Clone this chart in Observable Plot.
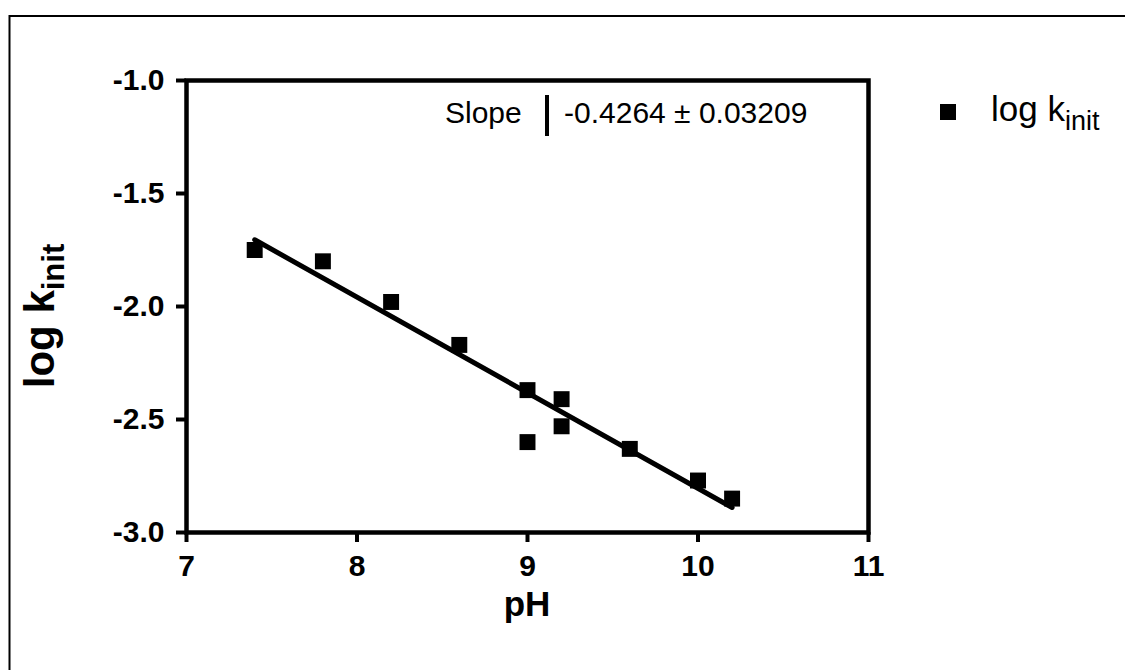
<!DOCTYPE html>
<html>
<head>
<meta charset="utf-8">
<script src="https://cdn.jsdelivr.net/npm/d3@7"></script>
<script src="https://cdn.jsdelivr.net/npm/@observablehq/plot@0.6"></script>
<style>
  html, body { margin: 0; padding: 0; background: white; }
  #chart { width: 1125px; height: 670px; }
</style>
</head>
<body>
<div id="chart"></div>
<script>
// ---- data ----
const pH = [7.4, 7.8, 8.2, 8.6, 9.0, 9.0, 9.2, 9.2, 9.6, 10.0, 10.2];
const logK = [-1.75, -1.80, -1.98, -2.17, -2.37, -2.60, -2.41, -2.53, -2.63, -2.77, -2.85];
const xTicks = [7, 8, 9, 10, 11];
const yTicks = [-1.0, -1.5, -2.0, -2.5, -3.0];
const seriesName = "log k";
const seriesSub = "init";
const xTitle = "pH";
const slopeLabel = "Slope";
const slopeValue = "-0.4264 ± 0.03209";

const data = pH.map((x, i) => ({pH: x, logK: logK[i]}));
const FONT = "'Liberation Sans', Arial, Helvetica, sans-serif";

const chart = Plot.plot({
  width: 1125,
  height: 670,
  marginLeft: 186,
  marginRight: 257,
  marginTop: 80,
  marginBottom: 138,
  style: {fontFamily: FONT, background: "white", color: "black", overflow: "visible"},
  x: {domain: [7, 11], label: null},
  y: {domain: [-3, -1], label: null},
  marks: [
    Plot.axisX({ticks: xTicks, tickSize: 10, tickPadding: 12, strokeWidth: 4, fontSize: 30, fontWeight: "bold", tickFormat: d => String(d), label: null}),
    Plot.axisY({ticks: yTicks, tickSize: 10, tickPadding: 12, strokeWidth: 4, fontSize: 30, fontWeight: "bold", tickFormat: d => d.toFixed(1), label: null}),
    Plot.frame({stroke: "black", strokeWidth: 4.5}),
    Plot.linearRegressionY(data, {x: "pH", y: "logK", ci: 0, stroke: "black", strokeWidth: 5}),
    Plot.dot(data, {x: "pH", y: "logK", symbol: "square", r: 9, fill: "black", stroke: "none"})
  ]
});

document.getElementById("chart").appendChild(chart);

const svg = d3.select(chart);
svg.attr("font-family", FONT);

// outer border (top and left edges of the scanned page)
svg.append("path").attr("d", "M9.5,670 L9.5,16 L1125,16").attr("fill", "none").attr("stroke", "black").attr("stroke-width", 2);

// y-axis title
const yt = svg.append("text")
  .attr("transform", "translate(54,316) rotate(-90)")
  .attr("text-anchor", "middle")
  .attr("font-size", 42).attr("font-weight", "bold").attr("fill", "black");
yt.append("tspan").text(seriesName);
yt.append("tspan").attr("font-size", 31).attr("dy", 10).text(seriesSub);

// x-axis title
svg.append("text").attr("x", 527).attr("y", 616).attr("text-anchor", "middle")
  .attr("font-size", 35).attr("font-weight", "bold").attr("fill", "black").text(xTitle);

// slope annotation
svg.append("text").attr("x", 445).attr("y", 123).attr("text-anchor", "start").attr("font-size", 30).attr("fill", "black").text(slopeLabel);
svg.append("line").attr("x1", 547).attr("x2", 547).attr("y1", 95).attr("y2", 136).attr("stroke", "black").attr("stroke-width", 4);
svg.append("text").attr("x", 564).attr("y", 123).attr("text-anchor", "start").attr("font-size", 30).attr("fill", "black").text(slopeValue);

// legend
svg.append("rect").attr("x", 940).attr("y", 104).attr("width", 16).attr("height", 16).attr("fill", "black");
const lt = svg.append("text").attr("x", 991).attr("y", 121).attr("text-anchor", "start").attr("font-size", 35).attr("fill", "black");
lt.append("tspan").text(seriesName);
lt.append("tspan").attr("font-size", 27).attr("dy", 9).text(seriesSub);
</script>
</body>
</html>
